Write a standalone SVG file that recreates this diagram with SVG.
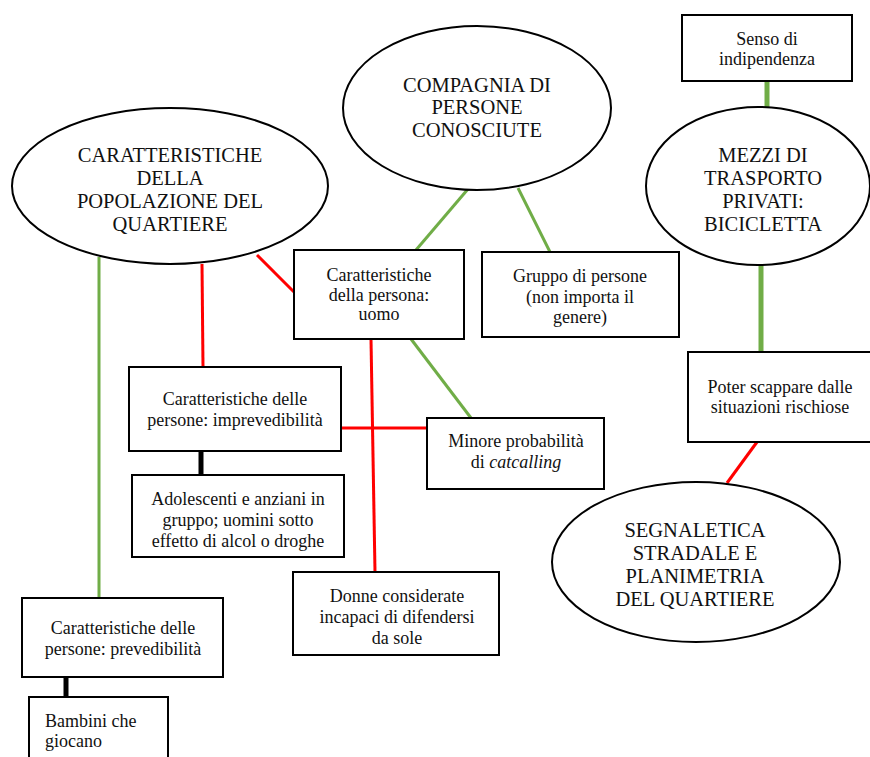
<svg xmlns="http://www.w3.org/2000/svg" width="870" height="757" viewBox="0 0 870 757">
<style>
text{fill:#111;text-anchor:middle}
.big{font-size:20.5px}
.sm{font-size:18px}
.node{fill:#fff;stroke:#000;stroke-width:2}
.red{stroke:#ff0000;stroke-width:3;fill:none}
.grn{stroke:#70ad47;stroke-width:3;fill:none}
.grnT{stroke:#70ad47;stroke-width:5;fill:none}
.blk{stroke:#000;stroke-width:5;fill:none}
</style>
<rect width="870" height="757" fill="#fff"/>
<g id="connectors">
<line class="grnT" x1="767" y1="81" x2="767" y2="108"/>
<line class="grnT" x1="761" y1="265" x2="761" y2="352"/>
<line class="red" x1="757" y1="442" x2="727" y2="483"/>
<line class="grn" x1="468" y1="189" x2="416" y2="250"/>
<line class="grn" x1="518" y1="188" x2="550" y2="252"/>
<line class="red" x1="257" y1="255" x2="294" y2="292"/>
<line class="red" x1="202" y1="264" x2="203" y2="367"/>
<line class="grn" x1="99" y1="257" x2="99" y2="598"/>
<line class="red" x1="371" y1="339" x2="375" y2="572"/>
<line class="grn" x1="411" y1="339" x2="471" y2="418"/>
<line class="red" x1="341" y1="428" x2="427" y2="428"/>
<line class="blk" x1="201" y1="451" x2="201" y2="475"/>
<line class="blk" x1="66" y1="677" x2="66" y2="697"/>
</g>
<g id="popolazione">
<ellipse class="node" cx="170" cy="186" rx="158" ry="78"/>
<text class="big" font-family="Liberation Serif, Times New Roman, serif" x="170" y="162">CARATTERISTICHE</text>
<text class="big" font-family="Liberation Serif, Times New Roman, serif" x="170" y="185">DELLA</text>
<text class="big" font-family="Liberation Serif, Times New Roman, serif" x="170" y="208">POPOLAZIONE DEL</text>
<text class="big" font-family="Liberation Serif, Times New Roman, serif" x="170" y="231">QUARTIERE</text>
</g>
<g id="compagnia">
<ellipse class="node" cx="477" cy="108" rx="134" ry="82"/>
<text class="big" font-family="Liberation Serif, Times New Roman, serif" x="477" y="92">COMPAGNIA DI</text>
<text class="big" font-family="Liberation Serif, Times New Roman, serif" x="477" y="114">PERSONE</text>
<text class="big" font-family="Liberation Serif, Times New Roman, serif" x="477" y="137">CONOSCIUTE</text>
</g>
<g id="senso">
<rect class="node" x="682" y="15" width="170" height="66"/>
<text class="sm" font-family="Liberation Serif, Times New Roman, serif" x="767" y="45">Senso di</text>
<text class="sm" font-family="Liberation Serif, Times New Roman, serif" x="767" y="65">indipendenza</text>
</g>
<g id="mezzi">
<ellipse class="node" cx="758" cy="186" rx="112" ry="79"/>
<text class="big" font-family="Liberation Serif, Times New Roman, serif" x="763" y="162">MEZZI DI</text>
<text class="big" font-family="Liberation Serif, Times New Roman, serif" x="763" y="185">TRASPORTO</text>
<text class="big" font-family="Liberation Serif, Times New Roman, serif" x="763" y="208">PRIVATI:</text>
<text class="big" font-family="Liberation Serif, Times New Roman, serif" x="763" y="231">BICICLETTA</text>
</g>
<g id="uomo">
<rect class="node" x="294" y="250" width="170" height="89"/>
<text class="sm" font-family="Liberation Serif, Times New Roman, serif" x="379" y="281">Caratteristiche</text>
<text class="sm" font-family="Liberation Serif, Times New Roman, serif" x="379" y="301">della persona:</text>
<text class="sm" font-family="Liberation Serif, Times New Roman, serif" x="379" y="320">uomo</text>
</g>
<g id="gruppo">
<rect class="node" x="482" y="252" width="197" height="85"/>
<text class="sm" font-family="Liberation Serif, Times New Roman, serif" x="580" y="282">Gruppo di persone</text>
<text class="sm" font-family="Liberation Serif, Times New Roman, serif" x="580" y="303">(non importa il</text>
<text class="sm" font-family="Liberation Serif, Times New Roman, serif" x="580" y="323">genere)</text>
</g>
<g id="poter">
<rect class="node" x="688" y="352" width="186" height="90"/>
<text class="sm" font-family="Liberation Serif, Times New Roman, serif" x="780" y="393">Poter scappare dalle</text>
<text class="sm" font-family="Liberation Serif, Times New Roman, serif" x="780" y="413">situazioni rischiose</text>
</g>
<g id="imprevedibilita">
<rect class="node" x="129" y="367" width="212" height="84"/>
<text class="sm" font-family="Liberation Serif, Times New Roman, serif" x="235" y="405">Caratteristiche delle</text>
<text class="sm" font-family="Liberation Serif, Times New Roman, serif" x="235" y="426">persone: imprevedibilità</text>
</g>
<g id="minore">
<rect class="node" x="427" y="418" width="177" height="71"/>
<text class="sm" font-family="Liberation Serif, Times New Roman, serif" x="516" y="447">Minore probabilità</text>
<text class="sm" font-family="Liberation Serif, Times New Roman, serif" x="516" y="468">di <tspan font-style="italic">catcalling</tspan></text>
</g>
<g id="adolescenti">
<rect class="node" x="132" y="475" width="212" height="82"/>
<text class="sm" font-family="Liberation Serif, Times New Roman, serif" x="238" y="505">Adolescenti e anziani in</text>
<text class="sm" font-family="Liberation Serif, Times New Roman, serif" x="238" y="526">gruppo; uomini sotto</text>
<text class="sm" font-family="Liberation Serif, Times New Roman, serif" x="238" y="547">effetto di alcol o droghe</text>
</g>
<g id="segnaletica">
<ellipse class="node" cx="696" cy="562" rx="144" ry="80"/>
<text class="big" font-family="Liberation Serif, Times New Roman, serif" x="695" y="537">SEGNALETICA</text>
<text class="big" font-family="Liberation Serif, Times New Roman, serif" x="695" y="560">STRADALE E</text>
<text class="big" font-family="Liberation Serif, Times New Roman, serif" x="695" y="583">PLANIMETRIA</text>
<text class="big" font-family="Liberation Serif, Times New Roman, serif" x="695" y="606">DEL QUARTIERE</text>
</g>
<g id="donne">
<rect class="node" x="293" y="572" width="206" height="83"/>
<text class="sm" font-family="Liberation Serif, Times New Roman, serif" x="397" y="602">Donne considerate</text>
<text class="sm" font-family="Liberation Serif, Times New Roman, serif" x="397" y="623">incapaci di difendersi</text>
<text class="sm" font-family="Liberation Serif, Times New Roman, serif" x="397" y="644">da sole</text>
</g>
<g id="prevedibilita">
<rect class="node" x="22" y="598" width="201" height="79"/>
<text class="sm" font-family="Liberation Serif, Times New Roman, serif" x="123" y="634">Caratteristiche delle</text>
<text class="sm" font-family="Liberation Serif, Times New Roman, serif" x="123" y="655">persone: prevedibilità</text>
</g>
<g id="bambini">
<rect class="node" x="29" y="697" width="139" height="70"/>
<text class="sm" font-family="Liberation Serif, Times New Roman, serif" x="45" y="727" style="text-anchor:start">Bambini che</text>
<text class="sm" font-family="Liberation Serif, Times New Roman, serif" x="45" y="747" style="text-anchor:start">giocano</text>
</g>
</svg>
